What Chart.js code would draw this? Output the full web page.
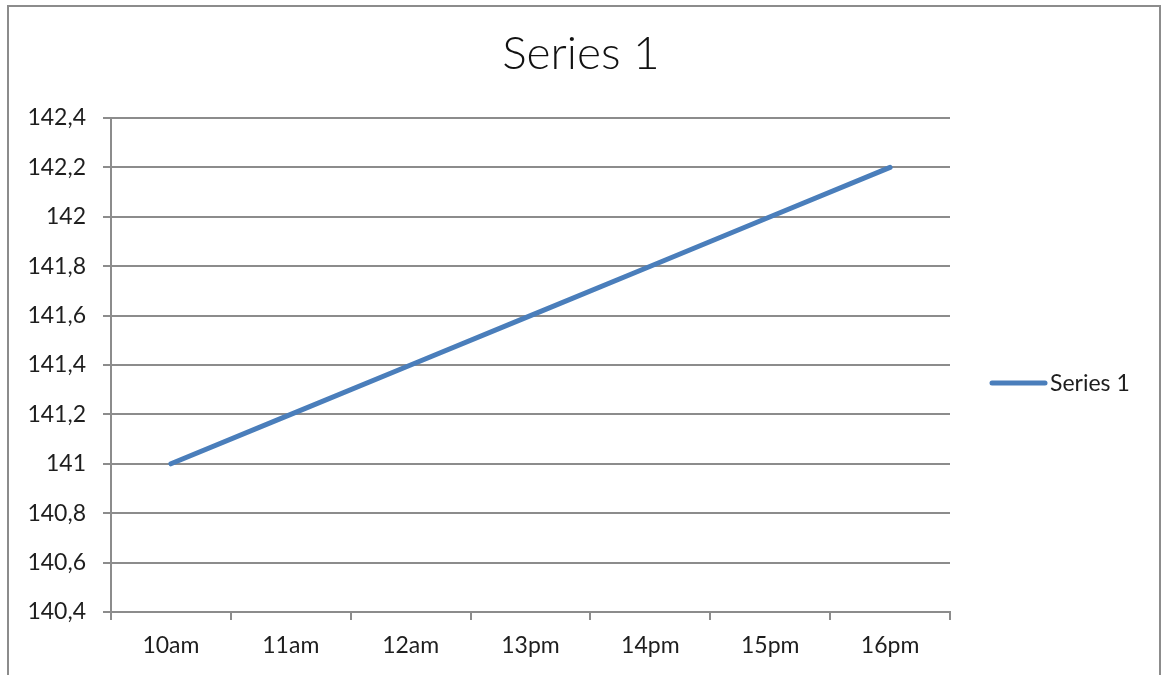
<!DOCTYPE html>
<html>
<head>
<meta charset="utf-8">
<script src="https://cdn.jsdelivr.net/npm/chart.js@4/dist/chart.umd.min.js"></script>
<style>
  html, body { margin: 0; padding: 0; background: #ffffff; }
  #wrap { position: relative; width: 1162px; height: 675px; }
</style>
</head>
<body>
<div id="wrap"><canvas id="c" width="1162" height="675"></canvas></div>
<script>
// Data
const categories = ['10am', '11am', '12am', '13pm', '14pm', '15pm', '16pm'];
const seriesName = 'Series 1';
const seriesValues = [141, 141.2, 141.4, 141.6, 141.8, 142, 142.2];
const yMin = 140.4;
const yMax = 142.4;
const yStep = 0.2;

const LINE_BLUE = '#4a7ebb';
const GRID_GREY = '#8c8c8c';
const TEXT_DARK = '#1e1e1e';
const FONT = 'Lato, "Open Sans", sans-serif';

// Comma decimal separator for the value axis
const fmt = v => String(Number(v.toFixed(1))).replace('.', ',');

// Outer frame around the whole chart
const framePlugin = {
  id: 'frame',
  beforeDraw(chart) {
    const ctx = chart.ctx;
    ctx.save();
    ctx.fillStyle = '#ffffff';
    ctx.fillRect(0, 0, chart.width, chart.height);
    ctx.strokeStyle = GRID_GREY;
    ctx.lineWidth = 2;
    ctx.beginPath();
    ctx.moveTo(8, chart.height + 10);
    ctx.lineTo(8, 6);
    ctx.lineTo(1160, 6);
    ctx.lineTo(1160, chart.height + 10);
    ctx.stroke();
    ctx.restore();
  }
};

// Legend entry to the right of the plot
const sideLegendPlugin = {
  id: 'sideLegend',
  afterDraw(chart) {
    const ds = chart.data.datasets[0];
    const ctx = chart.ctx;
    const y = 383;
    ctx.save();
    ctx.strokeStyle = ds.borderColor;
    ctx.lineWidth = 5;
    ctx.lineCap = 'round';
    ctx.beginPath();
    ctx.moveTo(992, y);
    ctx.lineTo(1045, y);
    ctx.stroke();
    ctx.fillStyle = TEXT_DARK;
    ctx.font = '400 23px ' + FONT;
    ctx.textBaseline = 'middle';
    ctx.textAlign = 'left';
    ctx.fillText(ds.label, 1050, y + 1);
    ctx.restore();
  }
};

new Chart(document.getElementById('c'), {
  type: 'line',
  data: {
    labels: categories,
    datasets: [{
      label: seriesName,
      data: seriesValues,
      borderColor: LINE_BLUE,
      backgroundColor: LINE_BLUE,
      borderWidth: 5,
      borderCapStyle: 'round',
      borderJoinStyle: 'round',
      pointRadius: 0,
      pointHoverRadius: 0,
      tension: 0,
      fill: false,
      yAxisID: 'y'
    }]
  },
  options: {
    responsive: false,
    animation: false,
    devicePixelRatio: 1,
    layout: { padding: 0 },
    plugins: {
      legend: { display: false },
      tooltip: { enabled: false },
      title: {
        display: true,
        text: seriesName,
        color: '#111111',
        font: { family: FONT, size: 46, weight: '300', lineHeight: 1.2 },
        padding: { top: 27, bottom: 35.8 }
      }
    },
    scales: {
      x: {
        type: 'category',
        offset: true,
        grid: {
          offset: true,
          drawOnChartArea: false,
          drawTicks: true,
          tickLength: 8,
          color: GRID_GREY,
          lineWidth: 2
        },
        border: { display: true, color: GRID_GREY, width: 2 },
        ticks: {
          color: TEXT_DARK,
          font: { family: FONT, size: 23, weight: '400' },
          padding: 12,
          maxRotation: 0,
          autoSkip: false
        },
        afterFit(scale) { scale.height = 63; }
      },
      y: {
        type: 'linear',
        position: 'left',
        min: yMin,
        max: yMax,
        grid: {
          color: GRID_GREY,
          lineWidth: 2,
          drawTicks: true,
          tickLength: 8
        },
        border: { display: true, color: GRID_GREY, width: 2 },
        ticks: {
          stepSize: yStep,
          color: TEXT_DARK,
          font: { family: FONT, size: 23, weight: '400' },
          padding: 17,
          callback: v => fmt(v)
        },
        afterFit(scale) { scale.width = 111; }
      },
      // Reserves the band on the right that holds the legend entry
      legendBand: {
        type: 'linear',
        position: 'right',
        display: true,
        grid: { display: false },
        border: { display: false },
        ticks: { display: false },
        afterFit(scale) { scale.width = 212; }
      }
    }
  },
  plugins: [framePlugin, sideLegendPlugin]
});
</script>
</body>
</html>
